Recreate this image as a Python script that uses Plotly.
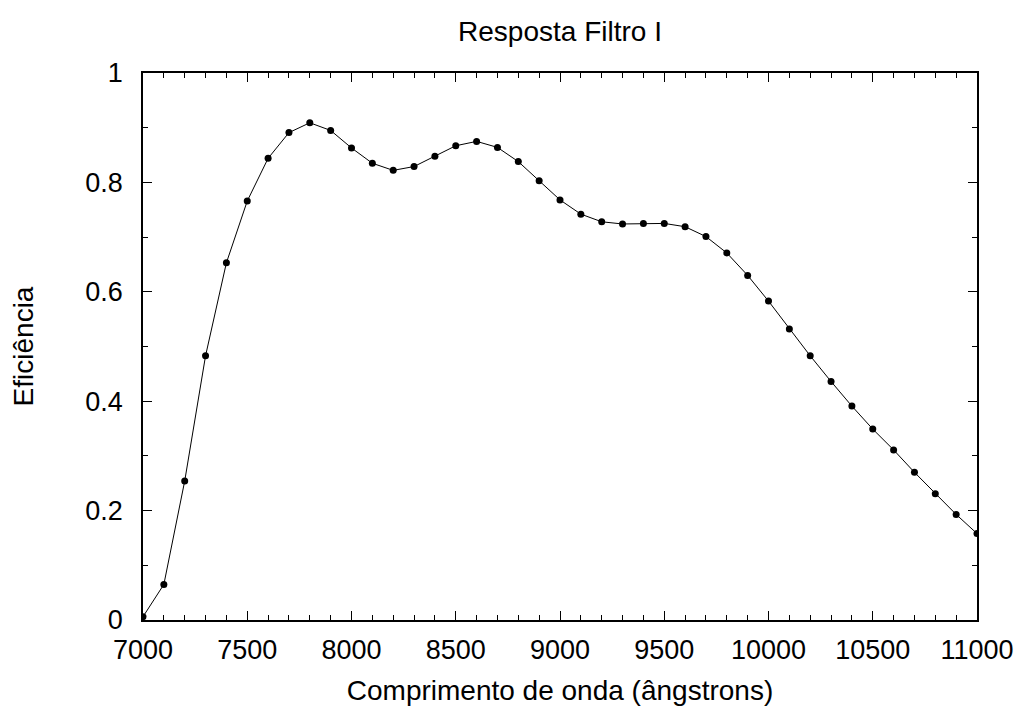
import plotly.graph_objects as go

wavelength = [7000, 7100, 7200, 7300, 7400, 7500, 7600, 7700, 7800, 7900,
              8000, 8100, 8200, 8300, 8400, 8500, 8600, 8700, 8800, 8900,
              9000, 9100, 9200, 9300, 9400, 9500, 9600, 9700, 9800, 9900,
              10000, 10100, 10200, 10300, 10400, 10500, 10600, 10700, 10800, 10900,
              11000]
efficiency = [0.006, 0.065, 0.254, 0.483, 0.653, 0.766, 0.844, 0.891, 0.909, 0.895,
              0.863, 0.835, 0.822, 0.829, 0.848, 0.867, 0.875, 0.864, 0.838, 0.803,
              0.768, 0.742, 0.728, 0.724, 0.725, 0.725, 0.719, 0.701, 0.671, 0.630,
              0.583, 0.532, 0.483, 0.436, 0.391, 0.349, 0.311, 0.270, 0.231, 0.193,
              0.158]

x_ticks = [7000, 7500, 8000, 8500, 9000, 9500, 10000, 10500, 11000]
x_tick_labels = [str(v) for v in x_ticks]
y_ticks = [0, 0.2, 0.4, 0.6, 0.8, 1]
y_tick_labels = ["0", "0.2", "0.4", "0.6", "0.8", "1"]

FONT = "Liberation Sans, Arial, sans-serif"

fig = go.Figure()
fig.add_trace(go.Scatter(
    x=wavelength, y=efficiency, mode="lines+markers",
    line=dict(color="black", width=1),
    marker=dict(color="black", size=7),
    showlegend=False,
))

fig.update_layout(
    width=1023, height=707,
    margin=dict(l=135, r=54, t=65, b=95),
    paper_bgcolor="white", plot_bgcolor="white",
    font=dict(family=FONT, size=27, color="black"),
    title=dict(text="Resposta Filtro I", x=0.5396, xanchor="center",
               y=0.967, yanchor="middle", font=dict(size=28)),
)

fig.update_xaxes(
    range=[7000, 11000], tickmode="array", tickvals=x_ticks, ticktext=x_tick_labels,
    ticks="inside", ticklen=9, tickwidth=1.2, tickcolor="black",
    minor=dict(dtick=100, ticks="inside", ticklen=5, tickwidth=1, tickcolor="black", showgrid=False),
    showline=True, linecolor="black", linewidth=1.5, mirror="allticks",
    showgrid=False, zeroline=False, ticklabelstandoff=5,
    title=dict(text="Comprimento de onda (ângstrons)", standoff=16, font=dict(size=28)),
)
fig.update_yaxes(
    range=[0, 1], tickmode="array", tickvals=y_ticks, ticktext=y_tick_labels,
    ticks="inside", ticklen=9, tickwidth=1.2, tickcolor="black",
    minor=dict(dtick=0.1, ticks="inside", ticklen=5, tickwidth=1, tickcolor="black", showgrid=False),
    showline=True, linecolor="black", linewidth=1.5, mirror="allticks",
    showgrid=False, zeroline=False, ticklabelstandoff=13,
    title=dict(text="Eficiência", standoff=44, font=dict(size=28)),
)

fig.write_html("out.html")
